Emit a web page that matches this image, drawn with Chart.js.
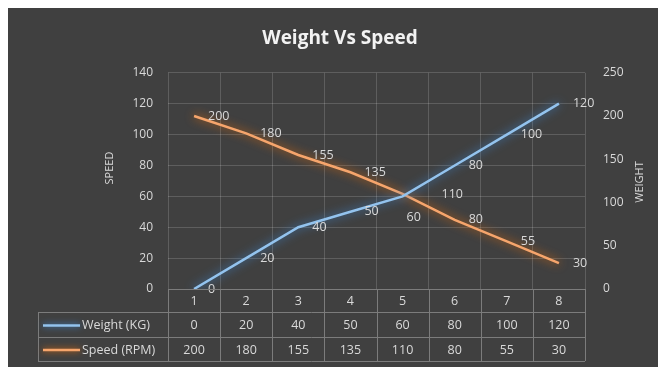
<!DOCTYPE html>
<html><head><meta charset="utf-8">
<script src="https://cdn.jsdelivr.net/npm/chart.js@4"></script>
<style>
html,body{margin:0;padding:0;background:#fff;width:658px;height:367px;overflow:hidden}
#wrap{position:absolute;left:8px;top:8px;width:650px;height:359px;background:#404040}
canvas{display:block}
</style></head><body>
<div id="wrap"><canvas id="c" width="650" height="359"></canvas></div>
<script>
const chartTitle = 'Weight Vs Speed';
const categories = ['1', '2', '3', '4', '5', '6', '7', '8'];
const weightKg = [0, 20, 40, 50, 60, 80, 100, 120];
const speedRpm = [200, 180, 155, 135, 110, 80, 55, 30];
const seriesNames = ['Weight (KG)', 'Speed (RPM)'];
const leftAxisTitle = 'SPEED';
const rightAxisTitle = 'WEIGHT';
const leftTicks = { min: 0, max: 140, step: 20 };
const rightTicks = { min: 0, max: 250, step: 50 };

const FONT = '"Open Sans", "DejaVu Sans", sans-serif';
const TXT = '#d9d9d9';

const glow = {
  id: 'glow',
  beforeDatasetDraw(chart, args) {
    const ds = chart.data.datasets[args.index];
    chart.ctx.save();
    chart.ctx.shadowColor = ds.glowColor;
    chart.ctx.shadowBlur = 10;
  },
  afterDatasetDraw(chart) { chart.ctx.restore(); }
};

const pointLabels = {
  id: 'pointLabels',
  afterDatasetsDraw(chart) {
    const ctx = chart.ctx;
    ctx.save();
    ctx.font = '12.5px ' + FONT;
    ctx.fillStyle = TXT;
    ctx.textAlign = 'left';
    ctx.textBaseline = 'middle';
    chart.data.datasets.forEach((ds, di) => {
      const meta = chart.getDatasetMeta(di);
      meta.data.forEach((pt, i) => {
        const off = (ds.labelOffsets && ds.labelOffsets[i]) || ds.labelOffset;
        ctx.fillText(String(ds.data[i]), pt.x + off[0], pt.y + off[1]);
      });
    });
    ctx.restore();
  }
};

const axisTitles = {
  id: 'axisTitles',
  afterDraw(chart) {
    const ctx = chart.ctx;
    ctx.save();
    ctx.font = '11px ' + FONT;
    ctx.fillStyle = TXT;
    ctx.textAlign = 'center';
    ctx.textBaseline = 'middle';
    [[leftAxisTitle, 102, 160], [rightAxisTitle, 632, 174]].forEach(([t, x, y]) => {
      ctx.save();
      ctx.translate(x, y);
      ctx.rotate(-Math.PI / 2);
      ctx.fillText(t, 0, 0);
      ctx.restore();
    });
    ctx.restore();
  }
};

const dataTable = {
  id: 'dataTable',
  afterDraw(chart) {
    const ctx = chart.ctx;
    const ca = chart.chartArea;
    const xs = chart.scales.x;
    const n = categories.length;
    const w = (ca.right - ca.left) / n;
    const rows = [ca.bottom, ca.bottom + 23, ca.bottom + 48, ca.bottom + 72];
    const legendLeft = 30;
    const ln = (x1, y1, x2, y2) => { ctx.beginPath(); ctx.moveTo(x1, y1); ctx.lineTo(x2, y2); ctx.stroke(); };
    ctx.save();
    ctx.strokeStyle = '#7c7c7c';
    ctx.lineWidth = 1;
    ln(ca.left, Math.round(rows[0]) + 0.5, ca.right, Math.round(rows[0]) + 0.5);
    for (let r = 1; r < 4; r++) ln(legendLeft, Math.round(rows[r]) + 0.5, ca.right, Math.round(rows[r]) + 0.5);
    for (let k = 0; k <= n; k++) {
      const x = Math.round(ca.left + k * w) + 0.5;
      ln(x, rows[0], x, rows[3]);
    }
    ln(legendLeft + 0.5, rows[1], legendLeft + 0.5, rows[3]);

    const series = [weightKg, speedRpm];
    ctx.font = '12.5px ' + FONT;
    ctx.fillStyle = TXT;
    ctx.textBaseline = 'middle';
    series.forEach((vals, r) => {
      const cy = (rows[r + 1] + rows[r + 2]) / 2 + 1;
      const ds = chart.data.datasets[r];
      ctx.save();
      ctx.strokeStyle = ds.borderColor;
      ctx.lineWidth = 2.5;
      ctx.shadowColor = ds.glowColor;
      ctx.shadowBlur = 6;
      ln(legendLeft + 5, cy, legendLeft + 42, cy);
      ctx.restore();
      ctx.textAlign = 'left';
      ctx.fillText(seriesNames[r], legendLeft + 44, cy);
      ctx.textAlign = 'center';
      vals.forEach((v, i) => ctx.fillText(String(v), xs.getPixelForValue(i), cy));
    });
    ctx.restore();
  }
};

new Chart(document.getElementById('c'), {
  type: 'line',
  data: {
    labels: categories,
    datasets: [
      {
        label: seriesNames[0], data: weightKg, yAxisID: 'y',
        borderColor: '#93c3ee', glowColor: '#3d86d0', borderWidth: 2.5,
        pointRadius: 0, tension: 0,
        labelOffset: [14, 0], labelOffsets: { 4: [4, 21] }
      },
      {
        label: seriesNames[1], data: speedRpm, yAxisID: 'y1',
        borderColor: '#f6a56c', glowColor: '#e46c0a', borderWidth: 2.5,
        pointRadius: 0, tension: 0,
        labelOffset: [14, 0], labelOffsets: { 4: [39, 1] }
      }
    ]
  },
  options: {
    responsive: false,
    devicePixelRatio: 1,
    animation: false,
    layout: { padding: { left: 14, right: 0, top: 0, bottom: 0 } },
    plugins: {
      legend: { display: false },
      tooltip: { enabled: false },
      title: {
        display: true, text: chartTitle, color: '#f2f2f2',
        font: { family: FONT, size: 19, weight: 'bold' },
        padding: { top: 19, bottom: 23 }
      }
    },
    scales: {
      x: {
        type: 'category', offset: true,
        grid: { offset: true, color: 'rgba(255,255,255,0.16)', drawTicks: false },
        border: { display: false },
        ticks: { color: TXT, font: { family: FONT, size: 12.5 }, padding: 5, maxRotation: 0 },
        afterFit(s) { s.height = 78; }
      },
      y: {
        position: 'left', min: leftTicks.min, max: leftTicks.max,
        ticks: { stepSize: leftTicks.step, color: TXT, font: { family: FONT, size: 12 }, padding: 15 },
        grid: { color: 'rgba(255,255,255,0.16)', drawTicks: false },
        border: { display: false },
        afterFit(s) { s.width = 146; }
      },
      y1: {
        position: 'right', min: rightTicks.min, max: rightTicks.max,
        ticks: { stepSize: rightTicks.step, color: TXT, font: { family: FONT, size: 12 }, padding: 18 },
        grid: { drawOnChartArea: false, drawTicks: false },
        border: { display: false },
        afterFit(s) { s.width = 73; }
      }
    }
  },
  plugins: [glow, pointLabels, axisTitles, dataTable]
});
</script>
</body></html>
